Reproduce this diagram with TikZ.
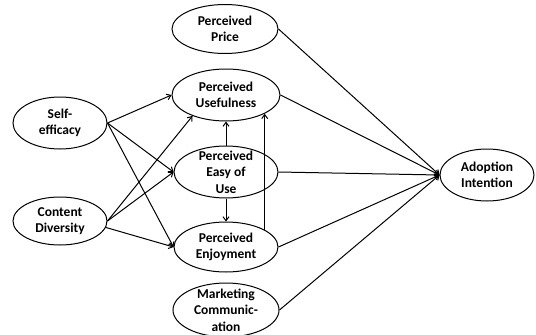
\documentclass[tikz,border=0pt]{standalone}
\usepackage{fontspec}
\setmainfont{Carlito}
\usetikzlibrary{shapes.geometric,arrows.meta}
\begin{document}
\begin{tikzpicture}[x=1pt,y=-1pt,
  ell/.style={ellipse, draw, line width=1pt, inner sep=0pt},
  txt/.style={align=center, font=\bfseries\fontsize{13.5}{16.5}\selectfont, inner sep=0pt},
  arr/.style={line width=1pt, -{Straight Barb[length=4pt,width=6pt]}}]
\useasboundingbox (0,0) rectangle (536,335);
% ellipses
\node[ell, minimum width=106pt, minimum height=49pt] (pp) at (225,29) {};
\node[ell, minimum width=108pt, minimum height=52pt] (pu) at (226,95) {};
\node[ell, minimum width=104pt, minimum height=52pt] (pe) at (226,172) {};
\node[ell, minimum width=104pt, minimum height=50pt] (pj) at (226,247) {};
\node[ell, minimum width=106pt, minimum height=54pt] (pm) at (226,310) {};
\node[ell, minimum width=94pt, minimum height=52pt] (se) at (60,123) {};
\node[ell, minimum width=94pt, minimum height=48pt] (cd) at (60,221) {};
\node[ell, minimum width=94pt, minimum height=52pt] (ai) at (487,175) {};
% texts
\node[txt] (ppt) at (pp) {Perceived\\Price};
\node[txt] (put) at (pu) {Perceived\\Usefulness};
\node[txt] (pet) at (pe) {Perceived\\Easy of\\Use};
\node[txt] (pjt) at (pj) {Perceived\\Enjoyment};
\node[txt] (pmt) at (pm) {Marketing\\Communic-\\ation};
\node[txt] (set) at (se) {Self-\\efficacy};
\node[txt] (cdt) at (cd) {Content\\Diversity};
\node[txt] (ait) at (ai) {Adoption\\Intention};
% connectors
\draw[arr] (se.east) -- (pu.west);
\draw[arr] (se.east) -- (pe.west);
\draw[arr] (se.east) -- (pj.west);
\draw[arr] (cd.east) -- (pu.212);
\draw[arr] (cd.east) -- (pe.west);
\draw[arr] (cd.-8) -- (pj.west);
\draw[arr] (pe.north) -- (pu.south);
\draw[arr] (pe.south) -- (pj.north);
\draw[arr] (pj.24) -- (pj.24 |- pu.-26);
\draw[arr] (pp.east) -- (ai.west);
\draw[arr] (pu.east) -- (ai.west);
\draw[arr] (pe.east) -- (ai.west);
\draw[arr] (pj.east) -- (ai.west);
\draw[arr] (pm.east) -- (ai.west);
\end{tikzpicture}
\end{document}
